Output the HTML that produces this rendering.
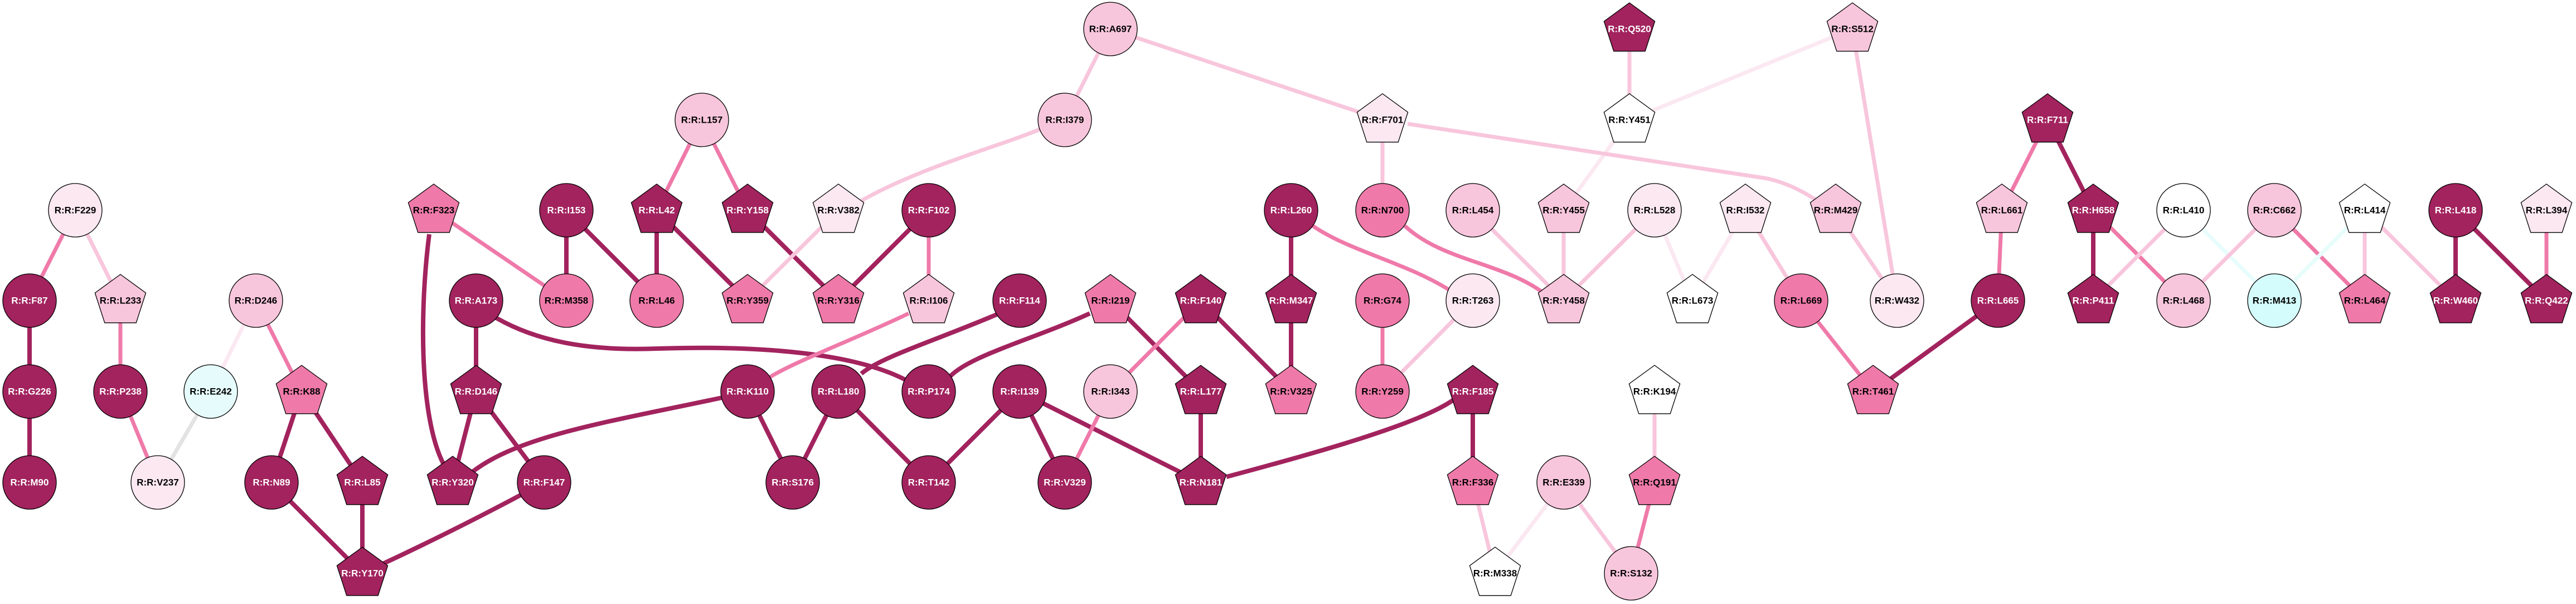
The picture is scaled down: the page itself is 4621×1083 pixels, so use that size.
<!DOCTYPE html>
<html><head><meta charset="utf-8"><style>
html,body{margin:0;padding:0;background:#fff;}
svg{display:block;}
text{font-family:"Liberation Sans",sans-serif;font-weight:bold;font-size:17px;text-anchor:middle;dominant-baseline:central;}
.w{fill:#fff}.b{fill:#000}
.nd{stroke:#000;stroke-width:1.3}
.eD{stroke:#a2235e;stroke-width:8;fill:none}
.eM{stroke:#ef7aa9;stroke-width:7;fill:none}
.eL{stroke:#f8c6dc;stroke-width:7;fill:none}
.eV{stroke:#fbe8f1;stroke-width:7;fill:none}
.eC{stroke:#e8fcfc;stroke-width:7;fill:none}
.eG{stroke:#e3e3e3;stroke-width:7;fill:none}
</style></head><body>
<svg width="4621" height="1083" viewBox="0 0 4621 1083" xmlns="http://www.w3.org/2000/svg">
<defs><polygon id="p" class="nd" points="0,-48 45.6,-14.8 28.2,38.8 -28.2,38.8 -45.6,-14.8"/></defs>
<!-- edges -->
<g>
<line class="eM" x1="135" y1="377" x2="53" y2="539"/>
<line class="eL" x1="135" y1="377" x2="216" y2="539"/>
<line class="eD" x1="53" y1="539" x2="53" y2="702"/>
<line class="eD" x1="53" y1="702" x2="53" y2="865"/>
<line class="eM" x1="216" y1="539" x2="216" y2="702"/>
<line class="eM" x1="216" y1="702" x2="283" y2="865"/>
<line class="eG" x1="378" y1="702" x2="283" y2="865"/>
<line class="eV" x1="459" y1="539" x2="378" y2="702"/>
<line class="eM" x1="459" y1="539" x2="541" y2="702"/>
<line class="eD" x1="541" y1="702" x2="487" y2="865"/>
<line class="eD" x1="541" y1="702" x2="650" y2="865"/>
<line class="eD" x1="650" y1="865" x2="650" y2="1028"/>
<line class="eD" x1="487" y1="865" x2="650" y2="1028"/>
<path class="eD" d="M650 1028 Q820 950 976 865"/>
<line class="eM" x1="778" y1="377" x2="1016" y2="539"/>
<path class="eD" d="M770 420 C752 560 752 760 800 840"/>
<line class="eD" x1="1016" y1="377" x2="1016" y2="539"/>
<line class="eD" x1="1016" y1="377" x2="1178" y2="539"/>
<line class="eD" x1="854" y1="539" x2="854" y2="702"/>
<path class="eD" d="M890 570 C960 610 1050 630 1180 625 C1400 618 1560 640 1640 690"/>
<line class="eD" x1="854" y1="702" x2="812" y2="865"/>
<line class="eD" x1="854" y1="702" x2="976" y2="865"/>
<path class="eD" d="M845 848 C930 780 1100 755 1300 712"/>
<line class="eM" x1="1259" y1="215" x2="1178" y2="377"/>
<line class="eM" x1="1259" y1="215" x2="1341" y2="377"/>
<line class="eD" x1="1178" y1="377" x2="1178" y2="539"/>
<line class="eD" x1="1178" y1="377" x2="1341" y2="539"/>
<line class="eD" x1="1341" y1="377" x2="1504" y2="539"/>
<line class="eL" x1="1504" y1="377" x2="1341" y2="539"/>
<path class="eL" d="M1545 360 C1650 300 1800 260 1870 230"/>
<line class="eL" x1="1992" y1="52" x2="1910" y2="215"/>
<line class="eL" x1="1992" y1="52" x2="2480" y2="215"/>
<line class="eD" x1="1666" y1="377" x2="1504" y2="539"/>
<line class="eM" x1="1666" y1="377" x2="1666" y2="539"/>
<path class="eM" d="M1630 562 C1530 610 1420 650 1375 680"/>
<path class="eD" d="M1790 563 C1680 610 1580 640 1545 670"/>
<path class="eD" d="M1955 562 C1850 610 1730 640 1700 680"/>
<line class="eD" x1="1992" y1="539" x2="2154" y2="702"/>
<line class="eM" x1="2154" y1="539" x2="1992" y2="702"/>
<line class="eD" x1="2154" y1="539" x2="2316" y2="702"/>
<line class="eD" x1="1341" y1="702" x2="1422" y2="865"/>
<line class="eD" x1="1504" y1="702" x2="1422" y2="865"/>
<line class="eD" x1="1504" y1="702" x2="1666" y2="865"/>
<line class="eD" x1="1829" y1="702" x2="1666" y2="865"/>
<line class="eD" x1="1829" y1="702" x2="1910" y2="865"/>
<line class="eD" x1="1829" y1="702" x2="2154" y2="865"/>
<line class="eM" x1="1992" y1="702" x2="1910" y2="865"/>
<line class="eD" x1="2154" y1="702" x2="2154" y2="865"/>
<path class="eD" d="M2200 855 C2350 815 2550 760 2610 715"/>
<line class="eD" x1="2642" y1="702" x2="2642" y2="865"/>
<line class="eL" x1="2642" y1="865" x2="2682" y2="1028"/>
<line class="eV" x1="2805" y1="865" x2="2682" y2="1028"/>
<line class="eL" x1="2805" y1="865" x2="2926" y2="1028"/>
<line class="eM" x1="2968" y1="865" x2="2926" y2="1028"/>
<line class="eL" x1="2968" y1="702" x2="2968" y2="865"/>
<line class="eD" x1="2316" y1="377" x2="2316" y2="539"/>
<line class="eD" x1="2316" y1="539" x2="2316" y2="702"/>
<path class="eM" d="M2355 405 C2420 450 2520 470 2600 520"/>
<line class="eL" x1="2642" y1="539" x2="2480" y2="702"/>
<line class="eM" x1="2480" y1="539" x2="2480" y2="702"/>
<line class="eL" x1="2480" y1="215" x2="2480" y2="377"/>
<path class="eM" d="M2520 405 C2590 470 2700 470 2775 530"/>
<line class="eL" x1="2642" y1="377" x2="2805" y2="539"/>
<line class="eL" x1="2805" y1="377" x2="2805" y2="539"/>
<line class="eL" x1="2968" y1="377" x2="2805" y2="539"/>
<line class="eV" x1="2923" y1="215" x2="2805" y2="377"/>
<line class="eL" x1="2923" y1="52" x2="2923" y2="215"/>
<line class="eV" x1="3323" y1="52" x2="2923" y2="215"/>
<line class="eL" x1="3323" y1="52" x2="3403" y2="539"/>
<path class="eL" d="M2525 222 L3170 320 Q3215 330 3260 360"/>
<line class="eL" x1="3293" y1="377" x2="3403" y2="539"/>
<line class="eV" x1="2968" y1="377" x2="3036" y2="539"/>
<line class="eV" x1="3131" y1="377" x2="3036" y2="539"/>
<line class="eL" x1="3131" y1="377" x2="3231" y2="539"/>
<line class="eM" x1="3231" y1="539" x2="3360" y2="702"/>
<line class="eD" x1="3584" y1="539" x2="3360" y2="702"/>
<line class="eM" x1="3673" y1="215" x2="3591" y2="377"/>
<line class="eD" x1="3673" y1="215" x2="3755" y2="377"/>
<line class="eM" x1="3591" y1="377" x2="3584" y2="539"/>
<line class="eD" x1="3755" y1="377" x2="3755" y2="539"/>
<line class="eM" x1="3755" y1="377" x2="3917" y2="539"/>
<line class="eL" x1="3917" y1="377" x2="3755" y2="539"/>
<line class="eC" x1="3917" y1="377" x2="4080" y2="539"/>
<line class="eL" x1="4080" y1="377" x2="3917" y2="539"/>
<line class="eM" x1="4080" y1="377" x2="4242" y2="539"/>
<line class="eC" x1="4242" y1="377" x2="4080" y2="539"/>
<line class="eL" x1="4242" y1="377" x2="4242" y2="539"/>
<line class="eL" x1="4242" y1="377" x2="4405" y2="539"/>
<line class="eD" x1="4405" y1="377" x2="4405" y2="539"/>
<line class="eD" x1="4405" y1="377" x2="4568" y2="539"/>
<line class="eM" x1="4568" y1="377" x2="4568" y2="539"/>
</g>
<!-- nodes -->
<g>
<circle class="nd" cx="135" cy="377" r="48" fill="#fbe8f1"/><text class="b" x="135" y="377">R:R:F229</text>
<circle class="nd" cx="53" cy="539" r="48" fill="#a2235e"/><text class="w" x="53" y="539">R:R:F87</text>
<use href="#p" x="216" y="540" fill="#f8c6dc"/><text class="b" x="216" y="539">R:R:L233</text>
<circle class="nd" cx="459" cy="539" r="48" fill="#f8c6dc"/><text class="b" x="459" y="539">R:R:D246</text>
<circle class="nd" cx="53" cy="702" r="48" fill="#a2235e"/><text class="w" x="53" y="702">R:R:G226</text>
<circle class="nd" cx="216" cy="702" r="48" fill="#a2235e"/><text class="w" x="216" y="702">R:R:P238</text>
<circle class="nd" cx="378" cy="702" r="48" fill="#e6fcfc"/><text class="b" x="378" y="702">R:R:E242</text>
<use href="#p" x="541" y="703" fill="#ef7aa9"/><text class="b" x="541" y="702">R:R:K88</text>
<circle class="nd" cx="53" cy="865" r="48" fill="#a2235e"/><text class="w" x="53" y="865">R:R:M90</text>
<circle class="nd" cx="283" cy="865" r="48" fill="#fbe8f1"/><text class="b" x="283" y="865">R:R:V237</text>
<circle class="nd" cx="487" cy="865" r="48" fill="#a2235e"/><text class="w" x="487" y="865">R:R:N89</text>
<use href="#p" x="650" y="866" fill="#a2235e"/><text class="w" x="650" y="865">R:R:L85</text>
<use href="#p" x="650" y="1029" fill="#a2235e"/><text class="w" x="650" y="1028">R:R:Y170</text>
<use href="#p" x="778" y="378" fill="#ef7aa9"/><text class="b" x="778" y="377">R:R:F323</text>
<circle class="nd" cx="1016" cy="377" r="48" fill="#a2235e"/><text class="w" x="1016" y="377">R:R:I153</text>
<circle class="nd" cx="854" cy="539" r="48" fill="#a2235e"/><text class="w" x="854" y="539">R:R:A173</text>
<circle class="nd" cx="1016" cy="539" r="48" fill="#ef7aa9"/><text class="b" x="1016" y="539">R:R:M358</text>
<use href="#p" x="854" y="703" fill="#a2235e"/><text class="w" x="854" y="702">R:R:D146</text>
<use href="#p" x="812" y="866" fill="#a2235e"/><text class="w" x="812" y="865">R:R:Y320</text>
<circle class="nd" cx="976" cy="865" r="48" fill="#a2235e"/><text class="w" x="976" y="865">R:R:F147</text>
<circle class="nd" cx="1259" cy="215" r="48" fill="#f8c6dc"/><text class="b" x="1259" y="215">R:R:L157</text>
<use href="#p" x="1178" y="378" fill="#a2235e"/><text class="w" x="1178" y="377">R:R:L42</text>
<use href="#p" x="1341" y="378" fill="#a2235e"/><text class="w" x="1341" y="377">R:R:Y158</text>
<use href="#p" x="1504" y="378" fill="#fbe8f1"/><text class="b" x="1504" y="377">R:R:V382</text>
<circle class="nd" cx="1666" cy="377" r="48" fill="#a2235e"/><text class="w" x="1666" y="377">R:R:F102</text>
<circle class="nd" cx="1178" cy="539" r="48" fill="#ef7aa9"/><text class="b" x="1178" y="539">R:R:L46</text>
<use href="#p" x="1341" y="540" fill="#ef7aa9"/><text class="b" x="1341" y="539">R:R:Y359</text>
<use href="#p" x="1504" y="540" fill="#ef7aa9"/><text class="b" x="1504" y="539">R:R:Y316</text>
<use href="#p" x="1666" y="540" fill="#f8c6dc"/><text class="b" x="1666" y="539">R:R:I106</text>
<circle class="nd" cx="1829" cy="539" r="48" fill="#a2235e"/><text class="w" x="1829" y="539">R:R:F114</text>
<use href="#p" x="1992" y="540" fill="#ef7aa9"/><text class="b" x="1992" y="539">R:R:I219</text>
<use href="#p" x="2154" y="540" fill="#a2235e"/><text class="w" x="2154" y="539">R:R:F140</text>
<circle class="nd" cx="1341" cy="702" r="48" fill="#a2235e"/><text class="w" x="1341" y="702">R:R:K110</text>
<circle class="nd" cx="1504" cy="702" r="48" fill="#a2235e"/><text class="w" x="1504" y="702">R:R:L180</text>
<circle class="nd" cx="1666" cy="702" r="48" fill="#a2235e"/><text class="w" x="1666" y="702">R:R:P174</text>
<circle class="nd" cx="1829" cy="702" r="48" fill="#a2235e"/><text class="w" x="1829" y="702">R:R:I139</text>
<circle class="nd" cx="1992" cy="702" r="48" fill="#f8c6dc"/><text class="b" x="1992" y="702">R:R:I343</text>
<use href="#p" x="2154" y="703" fill="#a2235e"/><text class="w" x="2154" y="702">R:R:L177</text>
<circle class="nd" cx="1422" cy="865" r="48" fill="#a2235e"/><text class="w" x="1422" y="865">R:R:S176</text>
<circle class="nd" cx="1666" cy="865" r="48" fill="#a2235e"/><text class="w" x="1666" y="865">R:R:T142</text>
<circle class="nd" cx="1910" cy="865" r="48" fill="#a2235e"/><text class="w" x="1910" y="865">R:R:V329</text>
<use href="#p" x="2154" y="866" fill="#a2235e"/><text class="w" x="2154" y="865">R:R:N181</text>
<circle class="nd" cx="1992" cy="52" r="48" fill="#f8c6dc"/><text class="b" x="1992" y="52">R:R:A697</text>
<circle class="nd" cx="1910" cy="215" r="48" fill="#f8c6dc"/><text class="b" x="1910" y="215">R:R:I379</text>
<circle class="nd" cx="2316" cy="377" r="48" fill="#a2235e"/><text class="w" x="2316" y="377">R:R:L260</text>
<use href="#p" x="2316" y="540" fill="#a2235e"/><text class="w" x="2316" y="539">R:R:M347</text>
<use href="#p" x="2316" y="703" fill="#ef7aa9"/><text class="b" x="2316" y="702">R:R:V325</text>
<use href="#p" x="2923" y="53" fill="#a2235e"/><text class="w" x="2923" y="52">R:R:Q520</text>
<use href="#p" x="3323" y="53" fill="#f8c6dc"/><text class="b" x="3323" y="52">R:R:S512</text>
<use href="#p" x="2480" y="216" fill="#fbe8f1"/><text class="b" x="2480" y="215">R:R:F701</text>
<use href="#p" x="2923" y="216" fill="#ffffff"/><text class="b" x="2923" y="215">R:R:Y451</text>
<circle class="nd" cx="2480" cy="377" r="48" fill="#ef7aa9"/><text class="b" x="2480" y="377">R:R:N700</text>
<circle class="nd" cx="2642" cy="377" r="48" fill="#f8c6dc"/><text class="b" x="2642" y="377">R:R:L454</text>
<use href="#p" x="2805" y="378" fill="#f8c6dc"/><text class="b" x="2805" y="377">R:R:Y455</text>
<circle class="nd" cx="2968" cy="377" r="48" fill="#fbe8f1"/><text class="b" x="2968" y="377">R:R:L528</text>
<use href="#p" x="3131" y="378" fill="#fbe8f1"/><text class="b" x="3131" y="377">R:R:I532</text>
<use href="#p" x="3293" y="378" fill="#f8c6dc"/><text class="b" x="3293" y="377">R:R:M429</text>
<circle class="nd" cx="2480" cy="539" r="48" fill="#ef7aa9"/><text class="b" x="2480" y="539">R:R:G74</text>
<circle class="nd" cx="2642" cy="539" r="48" fill="#fbe8f1"/><text class="b" x="2642" y="539">R:R:T263</text>
<use href="#p" x="2805" y="540" fill="#f8c6dc"/><text class="b" x="2805" y="539">R:R:Y458</text>
<use href="#p" x="3036" y="540" fill="#ffffff"/><text class="b" x="3036" y="539">R:R:L673</text>
<circle class="nd" cx="3231" cy="539" r="48" fill="#ef7aa9"/><text class="b" x="3231" y="539">R:R:L669</text>
<circle class="nd" cx="3403" cy="539" r="48" fill="#fbe8f1"/><text class="b" x="3403" y="539">R:R:W432</text>
<circle class="nd" cx="2480" cy="702" r="48" fill="#ef7aa9"/><text class="b" x="2480" y="702">R:R:Y259</text>
<use href="#p" x="2642" y="703" fill="#a2235e"/><text class="w" x="2642" y="702">R:R:F185</text>
<use href="#p" x="2968" y="703" fill="#ffffff"/><text class="b" x="2968" y="702">R:R:K194</text>
<use href="#p" x="3360" y="703" fill="#ef7aa9"/><text class="b" x="3360" y="702">R:R:T461</text>
<use href="#p" x="2642" y="866" fill="#ef7aa9"/><text class="b" x="2642" y="865">R:R:F336</text>
<circle class="nd" cx="2805" cy="865" r="48" fill="#f8c6dc"/><text class="b" x="2805" y="865">R:R:E339</text>
<use href="#p" x="2968" y="866" fill="#ef7aa9"/><text class="b" x="2968" y="865">R:R:Q191</text>
<use href="#p" x="2682" y="1029" fill="#ffffff"/><text class="b" x="2682" y="1028">R:R:M338</text>
<circle class="nd" cx="2926" cy="1028" r="48" fill="#f8c6dc"/><text class="b" x="2926" y="1028">R:R:S132</text>
<use href="#p" x="3673" y="216" fill="#a2235e"/><text class="w" x="3673" y="215">R:R:F711</text>
<use href="#p" x="3591" y="378" fill="#f8c6dc"/><text class="b" x="3591" y="377">R:R:L661</text>
<use href="#p" x="3755" y="378" fill="#a2235e"/><text class="w" x="3755" y="377">R:R:H658</text>
<circle class="nd" cx="3917" cy="377" r="48" fill="#ffffff"/><text class="b" x="3917" y="377">R:R:L410</text>
<circle class="nd" cx="4080" cy="377" r="48" fill="#f8c6dc"/><text class="b" x="4080" y="377">R:R:C662</text>
<use href="#p" x="4242" y="378" fill="#ffffff"/><text class="b" x="4242" y="377">R:R:L414</text>
<circle class="nd" cx="4405" cy="377" r="48" fill="#a2235e"/><text class="w" x="4405" y="377">R:R:L418</text>
<use href="#p" x="4568" y="378" fill="#fbe8f1"/><text class="b" x="4568" y="377">R:R:L394</text>
<circle class="nd" cx="3584" cy="539" r="48" fill="#a2235e"/><text class="w" x="3584" y="539">R:R:L665</text>
<use href="#p" x="3755" y="540" fill="#a2235e"/><text class="w" x="3755" y="539">R:R:P411</text>
<circle class="nd" cx="3917" cy="539" r="48" fill="#f8c6dc"/><text class="b" x="3917" y="539">R:R:L468</text>
<circle class="nd" cx="4080" cy="539" r="48" fill="#d4fcfc"/><text class="b" x="4080" y="539">R:R:M413</text>
<use href="#p" x="4242" y="540" fill="#ef7aa9"/><text class="b" x="4242" y="539">R:R:L464</text>
<use href="#p" x="4405" y="540" fill="#a2235e"/><text class="w" x="4405" y="539">R:R:W460</text>
<use href="#p" x="4568" y="540" fill="#a2235e"/><text class="w" x="4568" y="539">R:R:Q422</text>
</g>
</svg>
</body></html>
